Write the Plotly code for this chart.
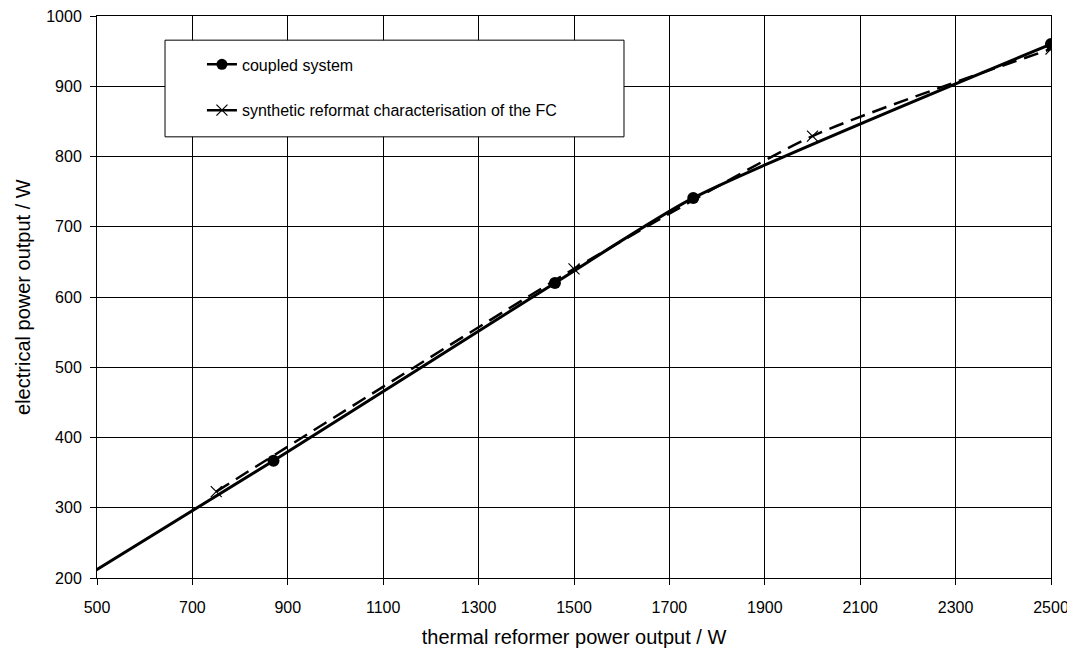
import plotly.graph_objects as go

# coupled system (first point is the line start, without marker)
coupled_x = [490, 870, 1460, 1750, 2500]
coupled_y = [208, 367, 620, 741, 960]

# synthetic reformat characterisation of the FC
synth_x = [750, 1500, 2000, 2500]
synth_y = [323, 640, 829, 953]

x_ticks = [500, 700, 900, 1100, 1300, 1500, 1700, 1900, 2100, 2300, 2500]
y_ticks = [200, 300, 400, 500, 600, 700, 800, 900, 1000]

FONT = "Liberation Sans, Arial, sans-serif"

fig = go.Figure()
# coupled system: smoothed line through all points
fig.add_trace(go.Scatter(
    x=coupled_x, y=coupled_y, mode="lines", showlegend=False, hoverinfo="skip",
    line=dict(color="black", width=3, shape="spline", smoothing=0.6),
))
# coupled system: measured points
fig.add_trace(go.Scatter(
    x=coupled_x[1:], y=coupled_y[1:], mode="markers", showlegend=False,
    marker=dict(symbol="circle", size=12, color="black", opacity=1,
                line=dict(width=0)),
))
# synthetic reformat line
fig.add_trace(go.Scatter(
    x=synth_x, y=synth_y, mode="lines", showlegend=False, hoverinfo="skip",
    line=dict(color="black", width=2.5, shape="spline", smoothing=0.6, dash="15px,8px"),
))
fig.add_trace(go.Scatter(
    x=synth_x, y=synth_y, mode="markers", showlegend=False,
    marker=dict(symbol="x-thin", size=11, color="black",
                line=dict(color="black", width=1.2)),
))
# legend entries
fig.add_trace(go.Scatter(
    x=[None], y=[None], name="coupled system", mode="lines+markers",
    legendgroup="a",
    line=dict(color="black", width=2.5),
    marker=dict(symbol="circle", size=11, color="black", line=dict(width=0)),
))
fig.add_trace(go.Scatter(
    x=[None], y=[None], name="synthetic reformat characterisation of the FC",
    mode="lines+markers", legendgroup="b",
    line=dict(color="black", width=2.5),
    marker=dict(symbol="x-thin", size=11, color="black",
                line=dict(color="black", width=1.2)),
))

# legend frame
fig.add_shape(type="rect", xref="paper", yref="paper",
              x0=0.0713, x1=0.5524, y0=0.785, y1=0.957,
              fillcolor="white", line=dict(color="black", width=1), layer="above")

# y axis title
fig.add_annotation(text="electrical power output / W", xref="paper", yref="paper",
                   x=-0.0776, y=0.5, xanchor="center", yanchor="middle",
                   textangle=-90, showarrow=False,
                   font=dict(family=FONT, size=20, color="black"))

axis_common = dict(
    showgrid=True, gridcolor="black", gridwidth=1,
    showline=True, linecolor="black", linewidth=1, mirror=True,
    ticks="outside", ticklen=6, tickcolor="black",
    tickfont=dict(family=FONT, size=16, color="black"),
    zeroline=False, automargin=False, ticklabeloverflow="allow",
)

fig.update_xaxes(range=[500, 2500], tickvals=x_ticks, ticktext=[str(v) for v in x_ticks],
                 title=dict(text="thermal reformer power output / W",
                            font=dict(family=FONT, size=20, color="black"), standoff=14),
                 ticklabelstandoff=9, **axis_common)
fig.update_yaxes(range=[200, 1000], tickvals=y_ticks, ticktext=[str(v) for v in y_ticks],
                 ticklabelstandoff=5, **axis_common)

fig.update_layout(
    width=1075, height=652,
    margin=dict(l=89, r=32, t=8, b=82),
    paper_bgcolor="white", plot_bgcolor="white",
    font=dict(family=FONT, color="black"),
    showlegend=True,
    legend=dict(x=0.11, y=0.944, xanchor="left", yanchor="top",
                bgcolor="rgba(0,0,0,0)", borderwidth=0,
                traceorder="grouped", tracegroupgap=22,
                font=dict(family=FONT, size=16, color="black")),
)

fig.write_html("out.html")
